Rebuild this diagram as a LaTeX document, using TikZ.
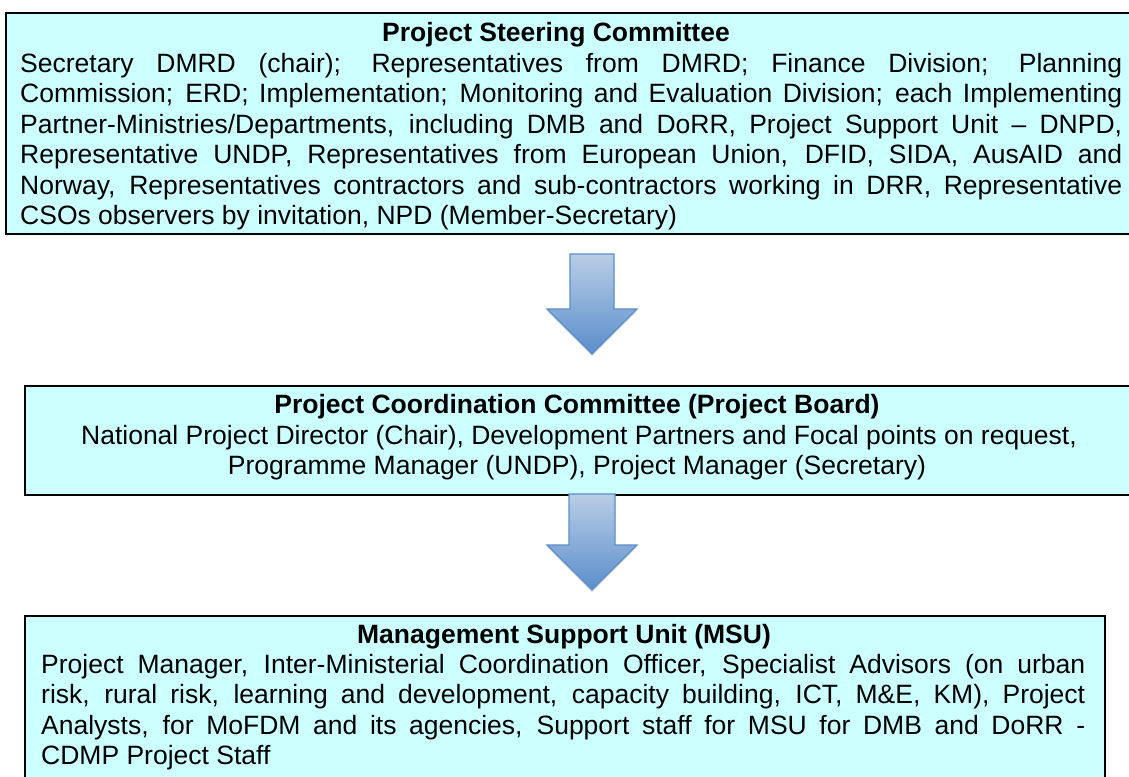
\documentclass[tikz,border=0pt]{standalone}
\usepackage{fontspec}
\setmainfont{Liberation Sans}
\usetikzlibrary{shadows}
\definecolor{boxfill}{HTML}{CCFFFF}
\definecolor{arrowtop}{HTML}{B9CDE6}
\definecolor{arrowbot}{HTML}{5A8ECB}
\definecolor{arrowedge}{HTML}{5B8DC9}
% a line of text spread over the full given width (font's own stretchable spaces)
\newcommand{\fullline}[2]{{\spaceskip=0pt\xspaceskip=0pt\makebox[#1][s]{#2}}}
\newcommand{\lastline}[1]{{\spaceskip=0pt\xspaceskip=0pt #1}}

\begin{document}
\begin{tikzpicture}[x=1pt,y=-1pt,
  panel/.style={draw=black, line width=1.8pt, fill=boxfill, inner sep=0pt, anchor=north west},
  bodytext/.style={inner sep=0pt, anchor=base west, align=left, font=\fontsize{26.5}{30.5}\selectfont},
  headtext/.style={inner sep=0pt, anchor=base, font=\fontsize{26.5}{30.5}\selectfont\bfseries},
  linetext/.style={inner sep=0pt, anchor=base, font=\fontsize{26.5}{30.5}\selectfont},
  flowarrow/.style={draw=arrowedge, line width=1.2pt, top color=arrowtop, bottom color=arrowbot, line join=miter,
    drop shadow={opacity=0.18, shadow xshift=0pt, shadow yshift=-2.5pt}}]
\useasboundingbox (0,0) rectangle (1129,776);

% ---- boxes ----
\node[panel, minimum width=1140pt, minimum height=221pt] (steer) at (5,12) {};
\node[panel, minimum width=1120pt, minimum height=109pt] (coord) at (24,385) {};
\node[panel, minimum width=1080pt, minimum height=190pt] (msu) at (24,615) {};

% ---- Project Steering Committee ----
\node[headtext] (steertitle) at (556,41.5) {Project Steering Committee};
\node[bodytext, text width=1102pt] (steerbody) at (20,72) {%
\fullline{1102pt}{Secretary DMRD (chair); Representatives from DMRD; Finance Division; Planning}\\
\fullline{1102pt}{Commission; ERD; Implementation; Monitoring and Evaluation Division; each Implementing}\\
\fullline{1102pt}{Partner-Ministries/Departments, including DMB and DoRR, Project Support Unit – DNPD,}\\
\fullline{1102pt}{Representative UNDP, Representatives from European Union, DFID, SIDA, AusAID and}\\
\fullline{1102pt}{Norway, Representatives contractors and sub-contractors working in DRR, Representative}\\
\lastline{CSOs observers by invitation, NPD (Member-Secretary)}};

% ---- Project Coordination Committee ----
\node[headtext] (coordtitle) at (577,413.5) {Project Coordination Committee (Project Board)};
\node[linetext] (coordline1) at (579,444) {National Project Director (Chair), Development Partners and Focal points on request,};
\node[linetext] (coordline2) at (577,474.5) {Programme Manager (UNDP), Project Manager (Secretary)};

% ---- Management Support Unit ----
\node[headtext] (msutitle) at (564,643.5) {Management Support Unit (MSU)};
\node[bodytext, text width=1044pt] (msubody) at (41,673) {%
\fullline{1044pt}{Project Manager, Inter-Ministerial Coordination Officer, Specialist Advisors (on urban}\\
\fullline{1044pt}{risk, rural risk, learning and development, capacity building, ICT, M\&E, KM), Project}\\
\fullline{1044pt}{Analysts, for MoFDM and its agencies, Support staff for MSU for DMB and DoRR -}\\
\lastline{CDMP Project Staff}};

% ---- block arrows between the boxes ----
\coordinate (arrowA) at (592,254);
\coordinate (arrowB) at (592,494);
\path[flowarrow] (arrowA) ++(-22,0) -- ++(44,0) -- ++(0,55) -- ++(23,0) -- ++(-45,45) -- ++(-45,-45) -- ++(23,0) -- cycle;
\path[flowarrow] (arrowB) ++(-23,0) -- ++(46,0) -- ++(0,51) -- ++(22,0) -- ++(-45,45) -- ++(-45,-45) -- ++(22,0) -- cycle;
\end{tikzpicture}
\end{document}
